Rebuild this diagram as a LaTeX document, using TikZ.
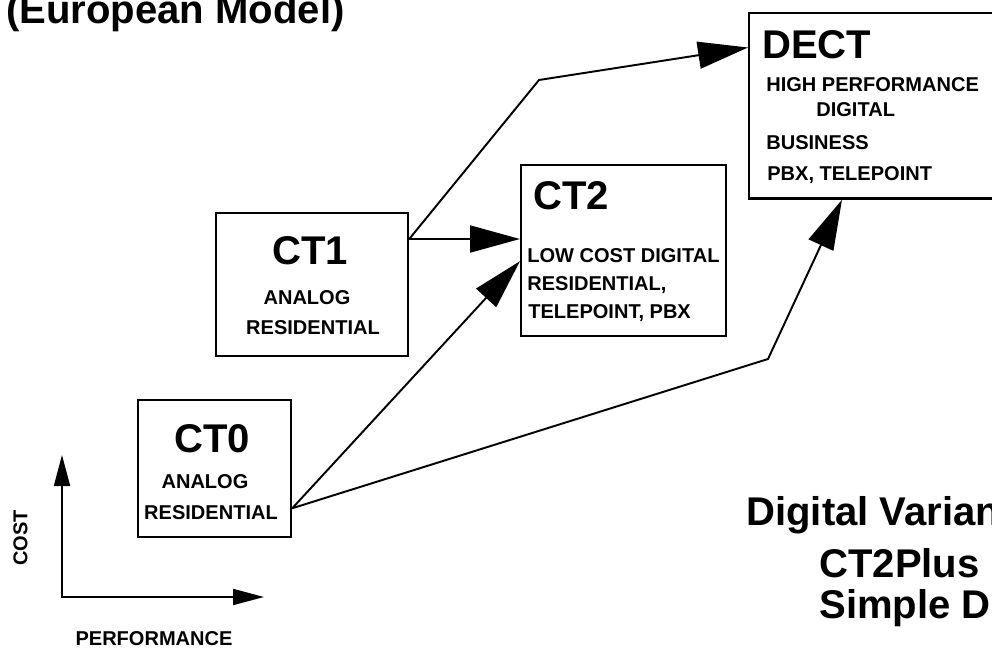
\documentclass[tikz,border=0pt]{standalone}
\usepackage{fontspec}
\setmainfont{Liberation Sans}
\usetikzlibrary{arrows.meta, positioning, calc}

\begin{document}
\begin{tikzpicture}[x=0.02cm, y=-0.02cm,
    box/.style={draw, line width=1.3pt, inner sep=0, anchor=north west},
    bigtxt/.style={font=\fontsize{22.8}{26}\selectfont\bfseries, inner sep=0},
    smalltxt/.style={font=\fontsize{11.4}{13}\selectfont\bfseries, inner sep=0},
    conn/.style={line width=1.1pt, -{Triangle[length=10mm, width=5.4mm]}},
    axis/.style={line width=1.1pt, {Triangle[length=6.2mm, width=3.2mm]}-{Triangle[length=6.2mm, width=3.2mm]}}]
    \useasboundingbox (0,0) rectangle (992,647);
    \clip (0,0) rectangle (992,647);

    % title
    \node[bigtxt, anchor=base west] (title) at (6,23) {(European Model)};

    % boxes
    \node[box, minimum width=3.06cm, minimum height=2.74cm] (ct0) at (137,399) {};
    \node[box, minimum width=3.84cm, minimum height=2.86cm] (ct1) at (215,212) {};
    \node[box, minimum width=4.10cm, minimum height=3.42cm] (ct2) at (520,164) {};
    \node[box, minimum width=5.24cm, minimum height=3.72cm] (dect) at (748,11.5) {};

    % box texts
    \node[bigtxt, anchor=base] (ct0name) at (212,452) {CT0};
    \node[smalltxt, anchor=base] (ct0a) at (205,488) {ANALOG};
    \node[smalltxt, anchor=base] (ct0b) at (211,519) {RESIDENTIAL};

    \node[bigtxt, anchor=base] (ct1name) at (310,264) {CT1};
    \node[smalltxt, anchor=base] (ct1a) at (307,304) {ANALOG};
    \node[smalltxt, anchor=base] (ct1b) at (313,334) {RESIDENTIAL};

    \node[bigtxt, anchor=base west] (ct2name) at (533,209) {CT2};
    \node[smalltxt, anchor=base west] (ct2a) at (527,262) {LOW COST DIGITAL};
    \node[smalltxt, anchor=base west] (ct2b) at (527,290) {RESIDENTIAL,};
    \node[smalltxt, anchor=base west] (ct2c) at (528,318) {TELEPOINT, PBX};

    \node[bigtxt, anchor=base west] (dectname) at (762,58) {DECT};
    \node[smalltxt, anchor=base west] (decta) at (766,91) {HIGH PERFORMANCE};
    \node[smalltxt, anchor=base west] (dectb) at (816,116) {DIGITAL};
    \node[smalltxt, anchor=base west] (dectc) at (766,149) {BUSINESS};
    \node[smalltxt, anchor=base west] (dectd) at (767,180) {PBX, TELEPOINT};

    % connectors
    \coordinate (ct1out) at ($(ct1.north east)+(0,27)$);
    \coordinate (ct0out) at ($(ct0.south east)+(0,-30)$);
    \coordinate (bendtop) at (539,80);
    \coordinate (bendlow) at (768,359);
    \draw[conn] (ct1out) -- (bendtop) -- ($(dect.north west)+(0,36)$);
    \draw[conn] (ct1out) -- (ct2.west |- ct1out);
    \draw[conn] (ct0out) -- ($(ct2.west)+(0,10.5)$);
    \draw[conn] (ct0out) -- (bendlow) -- ($(dect.south west)+(94,0)$);

    % axes
    \coordinate (origin) at (62,597);
    \coordinate (costend) at (62,455);
    \coordinate (perfend) at (264,597);
    \draw[axis] (costend) -- (origin) -- (perfend);
    \node[smalltxt, rotate=90] (cost) at (20.5,538) {COST};
    \node[smalltxt, anchor=base] (perf) at (154,645) {PERFORMANCE};

    % variants
    \node[bigtxt, anchor=base west] (var) at (746,525) {Digital Variants};
    \node[bigtxt, anchor=base west] (var1) at (819,577) {CT2Plus};
    \node[bigtxt, anchor=base west] (var2) at (819,618) {Simple DECT};
\end{tikzpicture}
\end{document}
